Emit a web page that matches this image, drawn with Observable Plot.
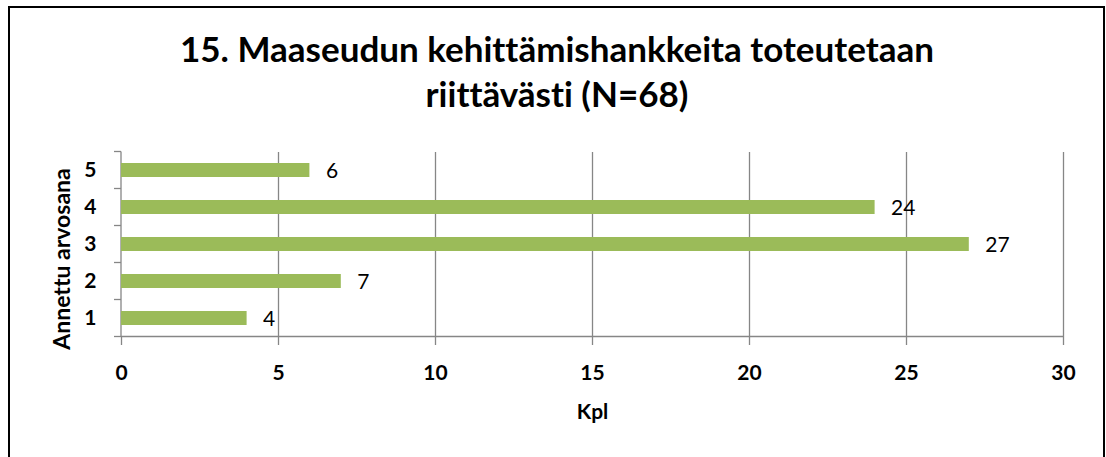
<!DOCTYPE html>
<html><head><meta charset="utf-8">
<script src="https://cdn.jsdelivr.net/npm/d3@7"></script>
<script src="https://cdn.jsdelivr.net/npm/@observablehq/plot@0.6"></script>
<style>
body{margin:0;background:#fff;}
#wrap{position:relative;width:1106px;height:457px;overflow:hidden;background:#fff;font-family:Lato,sans-serif;font-variant-ligatures:none;}
#frame{position:absolute;left:8px;top:6px;width:1097px;height:600px;border:2px solid #000;box-sizing:border-box;}
#title{position:absolute;left:9px;width:1096px;top:26px;text-align:center;font-family:Lato,sans-serif;font-weight:bold;font-size:35px;line-height:45px;color:#000;font-variant-ligatures:none;}
#chart{position:absolute;left:0;top:140px;}
#chart svg{overflow:visible;font-variant-ligatures:none;}
</style>
</head><body>
<div id="wrap">
  <div id="frame"></div>
  <div id="title"></div>
  <div id="chart"></div>
</div>
<script>
const titleLines = ["15. Maaseudun kehittämishankkeita toteutetaan", "riittävästi (N=68)"];
const categories = ["5", "4", "3", "2", "1"];
const counts = [6, 24, 27, 7, 4];
const xTicks = [0, 5, 10, 15, 20, 25, 30];
const xLabel = "Kpl";
const yLabel = "Annettu arvosana";

const data = categories.map((c, i) => ({grade: c, value: counts[i]}));

document.getElementById("title").innerHTML = titleLines.join("<br>");

const gridColor = "#868686";

function axisFrame(index, scales) {
  const x = scales.x, y = scales.y;
  const x0 = x(xTicks[0]), x1 = x(xTicks[xTicks.length - 1]);
  const bw = y.bandwidth(), step = y.step();
  const ys = categories.map(c => y(c) + bw / 2 - step / 2);
  ys.push(y(categories[categories.length - 1]) + bw / 2 + step / 2);
  const g = d3.create("svg:g").attr("stroke", gridColor).attr("stroke-width", 1.3).attr("fill", "none");
  g.append("line").attr("x1", x0).attr("x2", x0).attr("y1", ys[0]).attr("y2", ys[ys.length - 1]);
  g.append("line").attr("x1", x0).attr("x2", x1).attr("y1", ys[ys.length - 1]).attr("y2", ys[ys.length - 1]);
  for (const yy of ys) {
    g.append("line").attr("x1", x0 - 7).attr("x2", x0).attr("y1", yy).attr("y2", yy);
  }
  return g.node();
}

const chart = Plot.plot({
  width: 1106,
  height: 317,
  marginTop: 12,
  marginBottom: 120,
  marginLeft: 121,
  marginRight: 43,
  style: {fontFamily: "Lato, sans-serif", background: "transparent", color: "#000", overflow: "visible"},
  x: {domain: [xTicks[0], xTicks[xTicks.length - 1]], axis: null},
  y: {domain: categories, paddingInner: 0.62, paddingOuter: 0.31, axis: null},
  marks: [
    Plot.gridX(xTicks.slice(1), {stroke: gridColor, strokeOpacity: 1, strokeWidth: 1.3}),
    axisFrame,
    Plot.barX(data, {x: "value", y: "grade", fill: "#9BBB59"}),
    Plot.text(data, {x: "value", y: "grade", text: d => String(d.value), textAnchor: "start", dx: 16, dy: 1, fontSize: 21, fill: "#000"}),
    Plot.axisX(xTicks, {tickSize: 8, tickPadding: 20, stroke: gridColor, strokeWidth: 1.3, fill: "#000", fontSize: 21, fontWeight: "bold", label: null}),
    Plot.axisY(categories, {tickSize: 0, tickPadding: 25, fill: "#000", fontSize: 21, fontWeight: "bold", label: null}),
    Plot.text([xLabel], {frameAnchor: "bottom", dy: 75, lineAnchor: "middle", fontSize: 21, fontWeight: "bold", fill: "#000"}),
    Plot.text([yLabel], {frameAnchor: "left", rotate: -90, dx: -59, dy: 14, textAnchor: "middle", lineAnchor: "middle", fontSize: 23, fontWeight: "bold", fill: "#000"})
  ]
});
document.getElementById("chart").appendChild(chart);
</script>
</body></html>
